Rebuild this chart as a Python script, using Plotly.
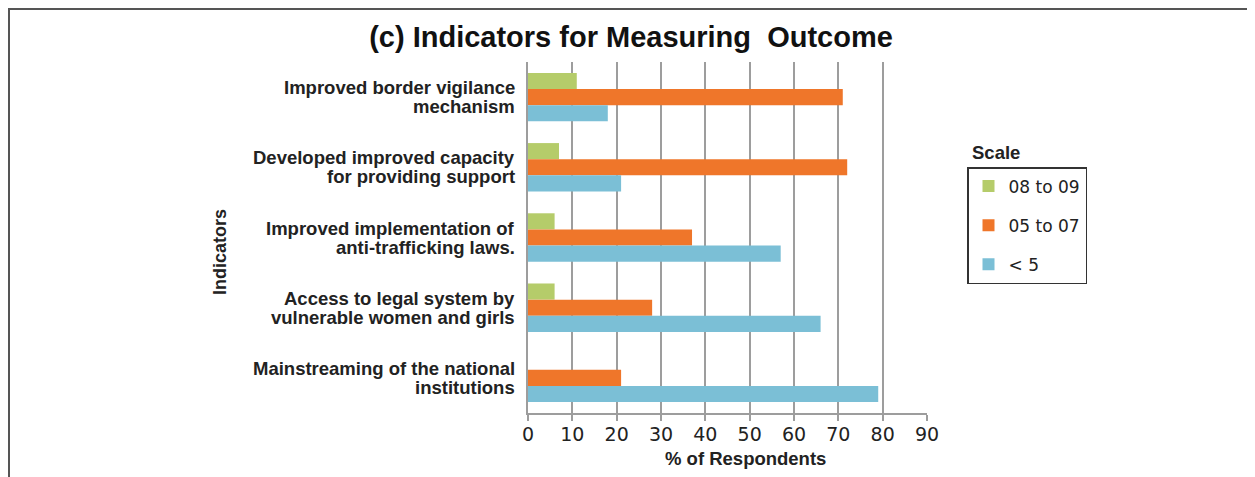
import plotly.graph_objects as go

categories = [
    "Improved border vigilance<br>mechanism",
    "Developed improved capacity<br>for providing support",
    "Improved implementation of<br>anti-trafficking laws.",
    "Access to legal system by<br>vulnerable women and girls",
    "Mainstreaming of the national<br>institutions",
]
series_names = ["08 to 09", "05 to 07", "< 5"]
vals_08_09 = [11, 7, 6, 6, 0]
vals_05_07 = [71, 72, 37, 28, 21]
vals_lt5 = [18, 21, 57, 66, 79]
x_ticks = [0, 10, 20, 30, 40, 50, 60, 70, 80, 90]

colors = ["#b5cc6a", "#ef762a", "#7bbfd6"]
font_main = "Liberation Sans, Arial, sans-serif"
font_wide = "DejaVu Sans, Liberation Sans, sans-serif"

# page offset of the plot div (body margin) is 8px
W, H = 1247, 469
PL, PR, PT, PB = 520, 919, 54, 405


def px(x):
    return (x - PL) / (PR - PL)


def py(y):
    return 1 - (y - PT) / (PB - PT)


fig = go.Figure()
for name, vals, col in zip(series_names, [vals_08_09, vals_05_07, vals_lt5], colors):
    fig.add_trace(go.Bar(
        y=categories, x=vals, name=name, orientation="h", legendgroup=name,
        marker=dict(color=col, line=dict(width=0)),
    ))

# category labels as two tightly spaced lines
label_annotations = []
for cat in categories:
    lines = cat.split("<br>")
    n = len(lines)
    for i, line in enumerate(lines):
        label_annotations.append(dict(
            text=line, xref="paper", yref="y", x=0, y=cat,
            xanchor="right", yanchor="middle", xshift=-11,
            yshift=(n - 1) * 9.5 - i * 19, showarrow=False,
            font=dict(family=font_main, size=18.5, color="#222", weight="bold"),
        ))

fig.update_layout(
    width=W, height=H,
    paper_bgcolor="white", plot_bgcolor="white",
    margin=dict(l=PL, r=W - PR, t=PT, b=H - PB),
    barmode="group", bargap=0.31, bargroupgap=0,
    title=dict(
        text="<b>(c) Indicators for Measuring  Outcome</b>",
        x=623 / W, xanchor="center", y=1 - 29 / H, yanchor="middle",
        font=dict(family=font_main, size=29, color="#111"),
    ),
    xaxis=dict(
        range=[0, 90], tickvals=x_ticks, showgrid=True, gridcolor="#9d9d9d", gridwidth=2,
        showline=True, linecolor="#9d9d9d", linewidth=2,
        ticks="outside", ticklen=6, tickcolor="#9d9d9d", tickwidth=2,
        tickfont=dict(family=font_wide, size=19, color="#222"),
        ticklabelstandoff=-3,
        zeroline=False,
    ),
    yaxis=dict(
        autorange="reversed", showline=True, linecolor="#9d9d9d", linewidth=2,
        ticks="", showticklabels=False,
    ),
    legend=dict(
        x=959 / W, xanchor="left", y=1 - 159 / H, yanchor="top",
        xref="container", yref="container",
        bordercolor="#333", borderwidth=1.5, bgcolor="white",
        font=dict(family=font_wide, size=17, color="#222"),
        itemwidth=30, tracegroupgap=14,
        traceorder="grouped",
    ),
    showlegend=True,
    annotations=label_annotations + [
        dict(text="<b>Scale</b>", xref="paper", yref="paper",
             x=px(962), y=py(144),
             xanchor="left", yanchor="middle", showarrow=False,
             font=dict(family=font_main, size=18.5, color="#222")),
        dict(text="Indicators", xref="paper", yref="paper",
             x=px(212), y=py(244),
             xanchor="center", yanchor="middle", textangle=-90, showarrow=False,
             font=dict(family=font_main, size=18, color="#222", weight="bold")),
        dict(text="% of Respondents", xref="paper", yref="paper",
             x=px(737), y=py(450),
             xanchor="center", yanchor="middle", showarrow=False,
             font=dict(family=font_main, size=18.5, color="#222", weight="bold")),
    ],
    shapes=[
        dict(type="line", xref="paper", yref="paper",
             x0=px(1), x1=px(1), y0=py(0), y1=py(H),
             line=dict(color="#555", width=2)),
        dict(type="line", xref="paper", yref="paper",
             x0=px(1242), x1=px(1242), y0=py(0), y1=py(H),
             line=dict(color="#555", width=2)),
        dict(type="line", xref="paper", yref="paper",
             x0=px(0), x1=px(W), y0=py(1), y1=py(1),
             line=dict(color="#555", width=2)),
    ],
)

fig.write_html("out.html")
